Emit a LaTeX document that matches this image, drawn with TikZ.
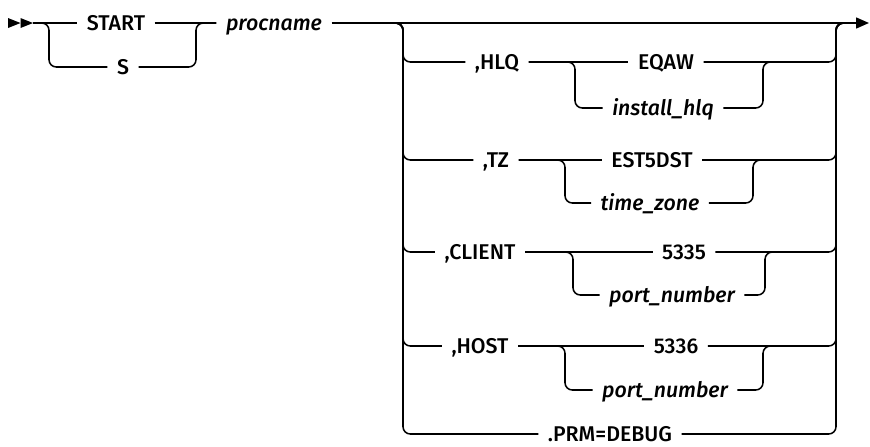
\documentclass[tikz,border=0pt]{standalone}
\usepackage{fontspec}
\IfFontExistsTF{Fira Sans Medium}{%
  \IfFontExistsTF{Fira Sans Medium Italic}%
    {\setmainfont{Fira Sans Medium}[ItalicFont={Fira Sans Medium Italic}]}%
    {\setmainfont{Fira Sans Medium}}}%
  {\setmainfont{Fira Sans}}
\usetikzlibrary{arrows.meta}
\tikzset{
  rr/.style={line width=1.15pt, rounded corners=5.5pt},
  kw/.style={font=\fontsize{16}{19}\selectfont, text height=11pt, text depth=0pt,
             inner ysep=0pt, inner xsep=7pt, anchor=center},
  var/.style={kw, font=\fontsize{16}{19}\selectfont\itshape},
  endtip/.style={-{Triangle[length=9.75pt,width=8.25pt]}},
}
\begin{document}
\begin{tikzpicture}[x=0.75pt,y=-0.75pt]
\useasboundingbox (0,0) rectangle (870,446);
% coordinates
\coordinate (in) at (33,23);
\coordinate (s1) at (49,23);
\coordinate (j1) at (196,23);
\coordinate (s2l) at (390,23);
\coordinate (s2) at (403,23);
\coordinate (j2) at (836,23);
\coordinate (j2r) at (850,23);
\coordinate (out) at (869,23);
% start arrows
\fill (8,18) -- (20.5,23) -- (8,28) -- cycle;
\fill (20.5,18) -- (33,23) -- (20.5,28) -- cycle;
% nodes
\node[kw] (START) at (116,23) {START};
\node[kw] (S) at (123,67) {S};
\node[var] (P) at (274,23) {procname};

\node[kw] (HLQ) at (497,62) {,HLQ};
\coordinate (hs) at (575,62);
\node[kw] (EQAW) at (666,62) {EQAW};
\node[var] (inst) at (663,108) {install\_hlq};
\coordinate (hj) at (763,62);
\coordinate (hjr) at (776,62);

\node[kw] (TZ) at (496,160) {,TZ};
\coordinate (ts) at (565,160);
\node[kw] (EST) at (652,160) {EST5DST};
\node[var] (tzone) at (650,203) {time\_zone};
\coordinate (tj) at (753,160);
\coordinate (tjr) at (766,160);

\node[kw] (CLI) at (480,252) {,CLIENT};
\coordinate (cs) at (573,252);
\node[kw] (n5335) at (684,252) {5335};
\node[var] (pn1) at (672,295) {port\_number};
\coordinate (cj) at (765,252);
\coordinate (cjr) at (778,252);

\node[kw] (HOST) at (480,346) {,HOST};
\coordinate (hos) at (565,346);
\node[kw] (n5336) at (676,346) {5336};
\node[var] (pn2) at (665,390) {port\_number};
\coordinate (hoj) at (763,346);
\coordinate (hojr) at (776,346);

\node[kw] (PRM) at (610,434) {.PRM=DEBUG};

% first choice
\draw[rr] (in) -- (START.west);
\draw[rr] (START.east) -- (P.west);
\draw[rr] (in) -- (s1) |- (S.west);
\draw[rr] (S.east) -| (j1) -- (P.west);
\draw[rr,endtip] (P.east) -- (out);

% big choice: left splits
\foreach \b in {HLQ,TZ,CLI,HOST,PRM}
  \draw[rr] (s2l) -- (s2) |- (\b.west);
% right joins
\foreach \b in {EQAW,EST,n5335,n5336,PRM}
  \draw[rr] (\b.east) -| (j2) -- (j2r);

% HLQ
\draw[rr] (HLQ.east) -- (EQAW.west);
\draw[rr] (HLQ.east) -- (hs) |- (inst.west);
\draw[rr] (inst.east) -| (hj) -- (hjr);
% TZ
\draw[rr] (TZ.east) -- (EST.west);
\draw[rr] (TZ.east) -- (ts) |- (tzone.west);
\draw[rr] (tzone.east) -| (tj) -- (tjr);
% CLIENT
\draw[rr] (CLI.east) -- (n5335.west);
\draw[rr] (CLI.east) -- (cs) |- (pn1.west);
\draw[rr] (pn1.east) -| (cj) -- (cjr);
% HOST
\draw[rr] (HOST.east) -- (n5336.west);
\draw[rr] (HOST.east) -- (hos) |- (pn2.west);
\draw[rr] (pn2.east) -| (hoj) -- (hojr);
\end{tikzpicture}
\end{document}
